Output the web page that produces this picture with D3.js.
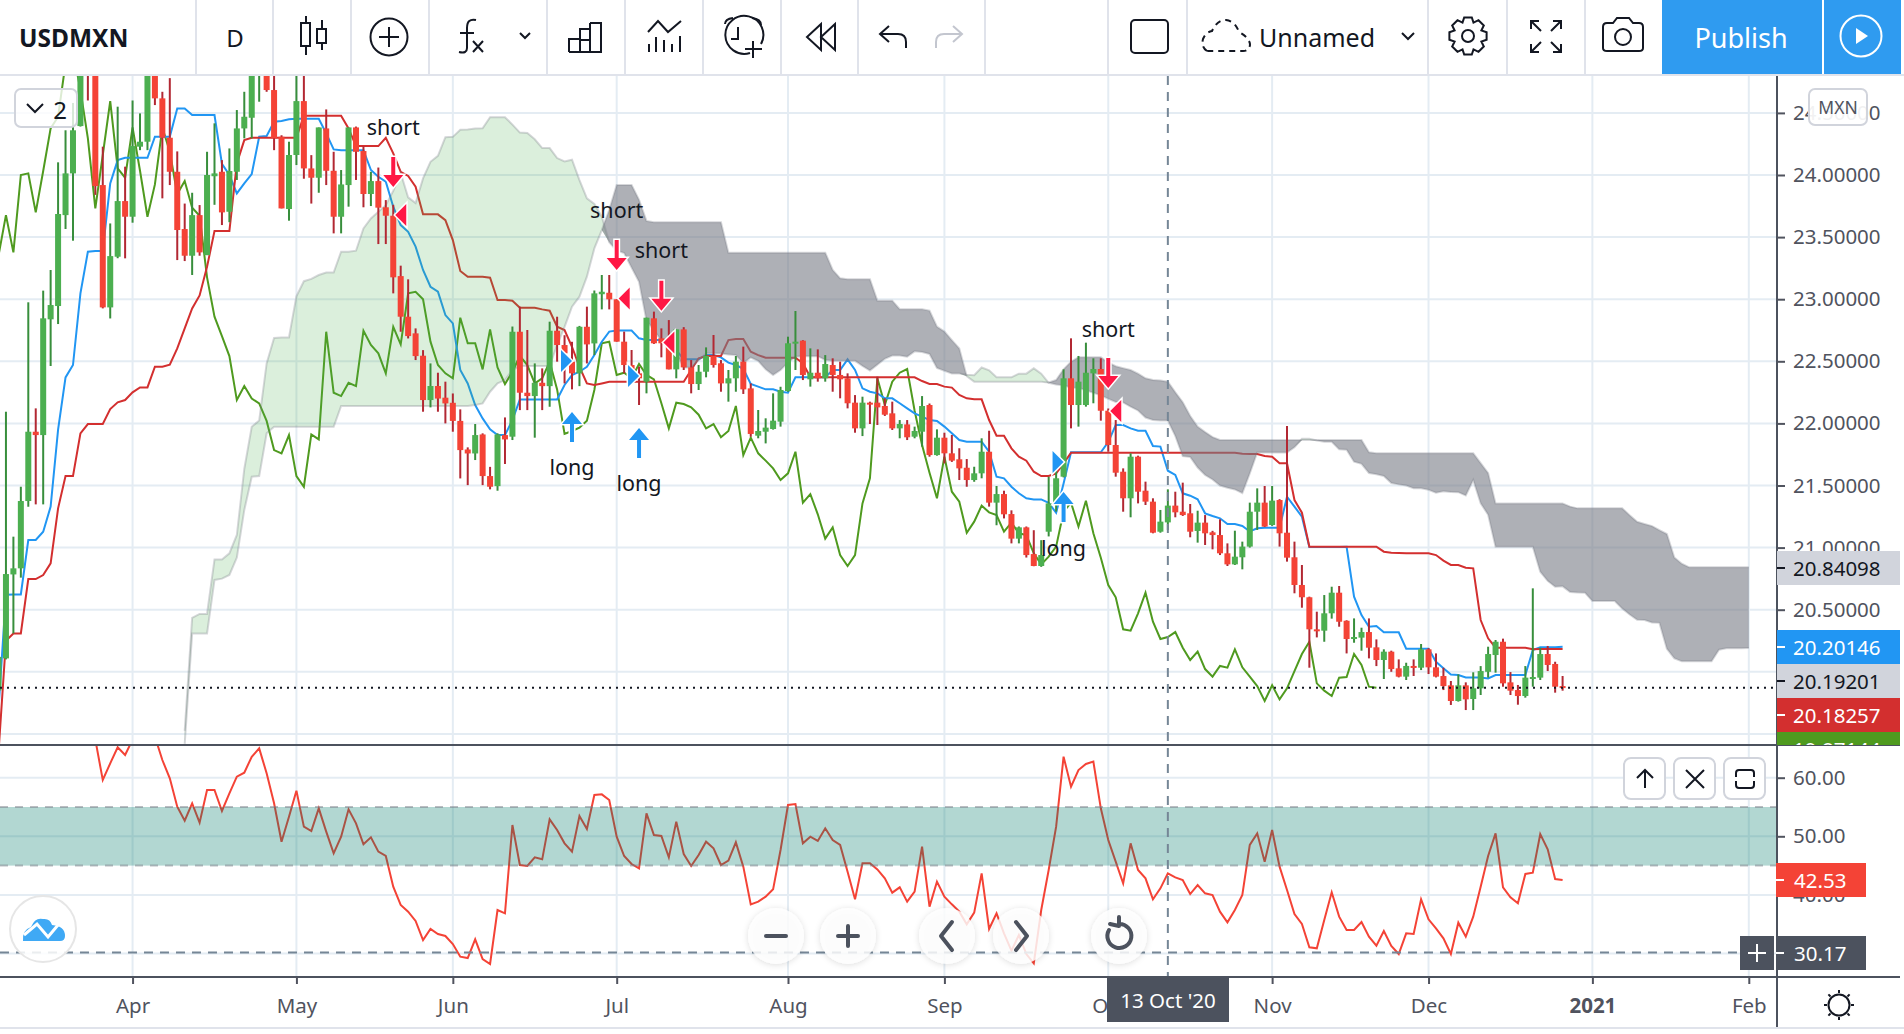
<!DOCTYPE html>
<html>
<head>
<meta charset="utf-8">
<title>USDMXN</title>
<script src="https://cdn.jsdelivr.net/npm/d3@7/dist/d3.min.js"></script>
<style>
  html, body { margin: 0; padding: 0; background: #fff; overflow: hidden; }
  svg { display: block; font-family: "Noto Sans", sans-serif; }
</style>
</head>
<body>
<svg id="chart" width="1904" height="1034"></svg>
<script>
// Daily USDMXN bars as [open, high, low, close]; the first bar is index 0.
const ohlc = [
[19.85,20.2,19.8,20.12],[20.108,22.094,20.1,20.787],[20.784,21.088,20.309,20.833],[20.833,21.49,20.758,21.375],[21.375,22.975,21.329,21.933],
[21.933,22.121,21.348,21.906],[21.906,23.069,21.348,22.846],[22.838,23.235,22.462,22.953],[22.945,24.102,22.8,23.686],[23.677,24.36,23.565,24.013],
[24.013,24.58,23.471,24.36],[24.394,25.1,24.39,25.0],[25.2,25.3,24.6,24.9],[25.0,25.1,23.84,23.911],[23.919,24.228,22.926,22.934],
[22.934,23.61,22.845,23.347],[23.342,24.55,23.33,23.79],[23.79,24.067,23.329,23.664],[23.664,24.6,23.616,24.233],[24.228,24.496,24.2,24.268],
[24.268,25.0,24.2,24.9],[25.0,25.1,24.563,24.617],[24.617,24.67,23.812,24.30],[24.30,24.78,23.919,24.026],[24.026,24.19,23.315,23.557],
[23.565,23.77,23.307,23.35],[23.35,23.857,23.195,23.677],[23.677,23.758,23.35,23.377],[23.355,24.187,23.355,24.0],[23.99,24.416,23.76,24.013],
[24.026,24.12,23.597,23.699],[23.704,24.214,23.62,24.032],[24.026,24.523,23.96,24.375],[24.375,24.67,24.295,24.469],[24.461,25.0,24.295,24.9],
[24.9,25.1,24.59,25.0],[25.0,25.1,24.67,24.684],[24.684,24.8,24.2,24.295],[24.308,24.32,23.731,23.731],[23.726,24.268,23.632,24.161],
[24.161,24.8,24.08,24.595],[24.595,24.8,23.97,24.053],[24.053,24.16,23.77,23.978],[23.978,24.383,23.857,24.383],[24.375,24.528,23.919,24.034],
[24.034,24.187,23.53,23.664],[23.664,24.04,23.53,23.924],[23.919,24.383,23.745,24.383],[24.383,24.39,23.96,24.187],[24.193,24.23,23.74,23.847],
[23.847,24.026,23.75,23.951],[23.951,24.06,23.444,23.737],[23.74,23.798,23.444,23.672],[23.672,23.76,23.047,23.176],[23.186,23.27,22.738,22.859],
[22.859,23.16,22.684,22.703],[22.725,22.765,22.51,22.542],[22.545,22.59,22.094,22.188],[22.188,22.483,22.129,22.301],[22.301,22.408,22.094,22.2],
[22.207,22.336,22.0,22.161],[22.166,22.241,21.933,22.02],[22.02,22.113,21.557,21.785],[21.79,21.807,21.503,21.758],[21.758,21.995,21.705,21.906],
[21.911,21.92,21.503,21.576],[21.576,21.65,21.469,21.49],[21.495,21.92,21.458,21.911],[21.906,22.048,21.673,21.871],[21.893,22.78,21.866,22.738],
[22.738,22.94,22.107,22.247],[22.247,22.752,22.107,22.22],[22.22,22.483,21.885,22.327],[22.327,22.443,22.107,22.3],[22.3,22.819,22.134,22.746],
[22.746,22.859,22.497,22.631],[22.631,22.71,22.322,22.564],[22.497,22.657,22.274,22.403],[22.403,22.785,22.3,22.778],[22.778,22.94,22.483,22.636],
[22.644,23.07,22.55,23.047],[23.04,23.195,22.918,23.06],[23.052,23.195,22.918,22.999],[22.999,23.0,22.658,22.658],[22.658,22.739,22.403,22.47],
[22.47,22.591,22.363,22.403],[22.403,22.457,22.148,22.363],[22.336,22.851,22.242,22.851],[22.846,22.9,22.64,22.645],[22.685,22.765,22.532,22.645],
[22.645,22.832,22.435,22.435],[22.435,22.757,22.363,22.757],[22.757,22.775,22.43,22.451],[22.451,22.51,22.242,22.317],[22.317,22.47,22.269,22.416],
[22.416,22.612,22.371,22.543],[22.543,22.712,22.449,22.47],[22.484,22.51,22.255,22.322],[22.322,22.43,22.175,22.363],[22.363,22.543,22.255,22.497],
[22.497,22.618,22.237,22.274],[22.282,22.322,21.893,21.915],[21.901,22.108,21.88,21.939],[21.933,22.041,21.839,21.966],[21.955,22.242,21.95,22.022],
[22.014,22.295,21.974,22.269],[22.261,22.698,22.255,22.645],[22.645,22.905,22.43,22.658],[22.666,22.67,22.349,22.39],[22.355,22.604,22.296,22.408],
[22.408,22.596,22.336,22.363],[22.363,22.55,22.336,22.478],[22.47,22.524,22.255,22.39],[22.39,22.497,22.202,22.355],[22.363,22.403,22.121,22.162],
[22.167,22.228,21.925,21.96],[21.96,22.215,21.898,22.167],[22.167,22.175,21.995,22.156],[22.167,22.376,21.987,22.129],[22.14,22.202,22.06,22.07],
[22.081,22.175,21.947,21.96],[21.96,22.027,21.88,21.995],[21.992,22.027,21.866,21.888],[21.893,21.974,21.88,21.939],[21.933,22.22,21.813,22.14],
[22.148,22.16,21.732,21.745],[21.745,21.952,21.74,21.885],[21.885,21.925,21.678,21.759],[21.759,21.907,21.69,21.70],[21.711,21.8,21.544,21.638],
[21.643,21.713,21.49,21.544],[21.544,21.651,21.53,21.598],[21.598,21.88,21.558,21.772],[21.772,21.941,21.33,21.362],[21.362,21.496,21.18,21.431],
[21.431,21.458,21.235,21.268],[21.27,21.3,21.034,21.072],[21.072,21.17,21.034,21.163],[21.163,21.17,20.92,20.94],[20.948,21.14,20.85,20.852],
[20.852,21.06,20.845,20.94],[21.128,21.57,21.09,21.356],[21.356,21.65,21.29,21.558],[21.571,22.435,21.565,22.363],[22.363,22.685,21.96,22.148],
[22.148,22.543,21.974,22.336],[22.148,22.65,22.135,22.408],[22.403,22.524,22.162,22.438],[22.438,22.524,22.022,22.102],[22.102,22.12,21.772,21.826],
[21.826,22.027,21.571,21.603],[21.611,21.638,21.289,21.397],[21.397,21.759,21.244,21.732],[21.732,21.74,21.356,21.45],[21.458,21.531,21.343,21.37],
[21.37,21.397,21.115,21.12],[21.128,21.303,21.12,21.209],[21.203,21.469,21.142,21.338],[21.338,21.45,21.244,21.284],[21.289,21.523,21.255,21.262],
[21.276,21.351,21.083,21.128],[21.134,21.297,21.04,21.201],[21.201,21.262,21.021,21.115],[21.123,21.135,20.986,21.101],[21.101,21.228,20.94,20.954],
[20.954,21.034,20.852,20.865],[20.865,21.136,20.86,20.927],[20.922,21.048,20.825,21.008],[21.008,21.362,21.0,21.289],[21.289,21.477,21.142,21.362],
[21.362,21.496,21.165,21.169],[21.182,21.496,21.175,21.378],[21.383,21.39,21.008,21.115],[21.12,21.979,20.887,20.919],[20.922,21.048,20.632,20.699],
[20.699,20.86,20.516,20.6],[20.6,20.605,20.033,20.342],[20.342,20.484,20.277,20.331],[20.331,20.618,20.242,20.471],[20.471,20.685,20.428,20.637],
[20.637,20.691,20.363,20.403],[20.411,20.415,20.148,20.264],[20.264,20.43,20.234,20.28],[20.275,20.355,20.17,20.32],[20.32,20.43,20.108,20.194],
[20.197,20.261,20.046,20.095],[20.095,20.181,19.942,20.162],[20.162,20.17,20.0,20.022],[20.028,20.1,19.955,19.961],[19.961,20.073,19.934,20.047],
[20.047,20.1,19.966,20.033],[20.033,20.224,20.014,20.181],[20.181,20.19,19.982,20.036],[20.036,20.148,19.955,19.961],[19.966,20.033,19.853,19.885],
[19.891,19.926,19.733,19.765],[19.765,19.979,19.76,19.891],[19.891,19.915,19.692,19.778],[19.781,19.996,19.692,19.867],[19.867,20.046,19.813,20.006],
[20.0,20.202,19.953,20.143],[20.135,20.256,19.993,20.242],[20.242,20.267,19.88,19.907],[19.915,19.998,19.813,19.848],[19.853,19.894,19.735,19.805],
[19.805,20.046,19.792,19.953],[19.947,20.672,19.88,19.958],[19.953,20.194,19.934,20.143],[20.143,20.208,20.006,20.055],[20.063,20.081,19.832,19.88],
[19.885,19.966,19.848,19.871]
];

// Ichimoku conversion line, one value per bar.
const tenkan = [
19.7,20.62,20.623,20.623,21.061,21.061,21.128,21.33,21.95,22.37,
22.47,23.047,23.382,23.388,23.388,23.932,24.12,24.139,24.139,24.139,
24.139,24.308,24.308,24.308,24.536,24.536,24.483,24.483,24.483,24.483,
24.09,24.0,23.852,23.932,24.008,24.308,24.314,24.429,24.434,24.448,
24.453,24.453,24.453,24.453,24.335,24.206,24.2,24.2,24.2,24.2,
24.04,23.986,23.946,23.745,23.597,23.543,23.423,23.235,23.1,23.06,
22.872,22.805,22.43,22.322,22.148,22.04,21.952,21.906,21.906,22.027,
22.193,22.193,22.193,22.193,22.193,22.193,22.309,22.389,22.416,22.456,
22.55,22.658,22.739,22.747,22.747,22.747,22.685,22.671,22.671,22.671,
22.671,22.59,22.516,22.516,22.516,22.55,22.55,22.532,22.489,22.47,
22.44,22.317,22.296,22.274,22.274,22.255,22.247,22.371,22.371,22.371,
22.371,22.371,22.43,22.43,22.516,22.43,22.282,22.255,22.242,22.202,
22.202,22.162,22.121,22.081,22.054,22.027,22.02,21.974,21.92,21.866,
21.853,21.853,21.853,21.772,21.571,21.558,21.49,21.437,21.397,21.388,
21.388,21.36,21.28,21.517,21.767,21.767,21.767,21.767,21.767,21.85,
21.987,21.987,21.96,21.941,21.941,21.818,21.813,21.619,21.585,21.437,
21.418,21.389,21.276,21.254,21.236,21.19,21.19,21.174,21.13,21.155,
21.16,21.16,21.16,21.41,21.33,21.249,21.005,21.005,21.005,21.005,
21.005,21.007,20.605,20.457,20.363,20.369,20.318,20.318,20.318,20.186,
20.186,20.186,20.186,20.081,20.028,19.979,19.974,19.955,19.955,19.955,
19.947,19.974,19.974,19.974,19.974,19.974,20.175,20.197,20.197,20.197,
20.201
];

// Ichimoku base line, one value per bar.
const kijun = [
19.35,20.25,20.309,20.309,20.747,20.747,20.779,20.873,21.316,21.576,
21.576,21.92,21.995,21.995,21.995,22.116,22.17,22.188,22.25,22.29,
22.29,22.457,22.457,22.473,22.604,22.765,22.926,23.03,23.261,23.549,
23.549,23.549,24.094,24.281,24.3,24.3,24.3,24.3,24.3,24.3,
24.3,24.477,24.477,24.477,24.477,24.477,24.477,24.375,24.233,24.233,
24.233,24.233,24.3,24.174,24.026,23.992,23.906,23.683,23.683,23.683,
23.637,23.476,23.227,23.181,23.181,23.181,23.173,22.993,22.993,22.988,
22.931,22.931,22.931,22.918,22.907,22.778,22.752,22.617,22.456,22.322,
22.309,22.322,22.336,22.336,22.336,22.336,22.336,22.336,22.336,22.336,
22.336,22.336,22.336,22.43,22.524,22.543,22.543,22.543,22.671,22.679,
22.679,22.577,22.55,22.529,22.529,22.529,22.529,22.529,22.484,22.371,
22.371,22.371,22.371,22.371,22.371,22.371,22.371,22.371,22.371,22.371,
22.371,22.371,22.371,22.371,22.341,22.317,22.317,22.296,22.288,22.229,
22.202,22.194,22.194,22.027,21.901,21.901,21.799,21.732,21.70,21.611,
21.576,21.576,21.598,21.678,21.764,21.764,21.764,21.764,21.764,21.764,
21.764,21.764,21.764,21.764,21.764,21.764,21.764,21.764,21.764,21.764,
21.764,21.764,21.764,21.764,21.764,21.764,21.764,21.756,21.754,21.754,
21.737,21.732,21.679,21.679,21.383,21.281,21.007,21.007,21.007,21.007,
21.007,21.007,21.007,21.007,21.007,21.007,20.967,20.959,20.956,20.954,
20.954,20.954,20.954,20.94,20.895,20.86,20.86,20.838,20.833,20.417,
20.27,20.194,20.194,20.194,20.194,20.194,20.181,20.183,20.183,20.183,
20.183
];

// Leading span B; its first value sits on bar 25 and it runs 25 bars past the last candle.
const senkouBStart = 25;
const senkouB = [
19.42,20.309,20.309,20.309,20.74,20.75,20.78,20.92,21.303,21.571,
21.576,21.92,21.973,21.973,21.973,21.973,21.973,21.973,21.973,21.973,
21.973,22.14,22.14,22.14,22.14,22.14,22.14,22.14,22.14,22.14,
22.14,22.14,22.14,22.14,22.14,22.14,22.14,22.14,22.14,22.148,
22.161,22.255,22.322,22.349,22.43,22.462,22.462,22.462,22.462,22.462,
22.631,22.778,22.94,23.02,23.181,23.409,23.557,23.72,23.92,23.92,
23.92,23.8,23.63,23.62,23.62,23.62,23.62,23.62,23.62,23.62,
23.62,23.62,23.62,23.375,23.375,23.375,23.375,23.375,23.375,23.375,
23.375,23.375,23.375,23.375,23.375,23.375,23.375,23.235,23.168,23.16,
23.16,23.16,23.16,22.988,22.988,22.988,22.92,22.92,22.92,22.92,
22.908,22.779,22.739,22.67,22.604,22.38,22.336,22.336,22.336,22.336,
22.336,22.336,22.336,22.336,22.336,22.336,22.33,22.349,22.435,22.497,
22.532,22.532,22.532,22.532,22.49,22.46,22.445,22.43,22.40,22.363,
22.35,22.345,22.336,22.25,22.17,22.06,21.974,21.93,21.89,21.866,
21.866,21.866,21.866,21.866,21.866,21.866,21.866,21.866,21.866,21.866,
21.866,21.866,21.866,21.866,21.866,21.866,21.866,21.866,21.866,21.767,
21.76,21.76,21.76,21.76,21.76,21.76,21.76,21.76,21.76,21.76,
21.76,21.76,21.76,21.76,21.68,21.6,21.356,21.356,21.356,21.356,
21.356,21.356,21.356,21.356,21.356,21.356,21.33,21.316,21.316,21.316,
21.316,21.316,21.316,21.316,21.26,21.208,21.19,21.173,21.14,21.109,
20.92,20.87,20.841,20.841,20.841,20.841,20.841,20.841,20.841,20.841,
20.841
];

// Ichimoku displacement, in bars.
const displacement = 25;

// RSI starting at bar 13; the first and several early values sit above the pane.
const rsiStart = 13;
const rsi = [
66.5,59.61,62.45,65.18,63.87,66.5,67.5,69,67,63.02,
59.89,55.06,52.67,55.63,52.33,57.9,57.9,54.32,57.33,60.18,
60.86,63.58,65.01,60.75,55.63,49.08,53.35,57.79,51.64,50.9,
54.77,50.79,47.09,49.94,54.6,52.21,48.63,49.82,47.38,46.64,
41.41,38.28,37.14,35.55,32.3,34.18,33.33,32.99,31.62,29.46,
29.23,32.42,29.06,28.21,37.42,36.85,51.93,45.1,44.93,46.41,
46.07,52.9,51.08,48.8,47.38,53.46,51.25,57.05,57.16,56.19,
49.94,46.64,45.27,44.53,53.92,50.22,50.05,46.41,52.5,46.98,
44.93,46.81,49.08,47.95,45.1,45.84,48.97,44.82,38.39,38.85,
39.7,40.95,47.66,55.34,55.51,48.8,49.94,49.2,51.36,49.37,
48.52,43.96,39.24,45.39,45.39,44.36,42.83,40.38,41.29,38.85,
40.55,48.23,38.0,42.26,39.7,38.39,37.14,34.98,36.97,43.68,
34.18,36.85,33.44,30.48,33.16,29.91,28.32,37.42,44.25,51.64,
63.58,58.47,61.31,62.34,62.74,54.77,49.37,45.67,41.97,48.8,
44.25,42.83,39.24,41.12,43.68,43.0,42.54,40.15,41.69,40.27,
39.98,37.14,35.32,37.42,39.98,48.52,50.5,45.67,51.08,44.82,
40.84,36.74,35.03,31.05,30.88,35.72,40.44,36.29,34.01,34.01,
35.38,32.87,31.34,33.84,31.28,29.91,33.44,33.33,39.24,35.83,
34.29,32.59,29.91,35.26,32.87,36.29,41.41,46.64,50.5,41.29,
39.58,38.56,43.57,43.79,50.39,47.78,42.71,42.53
];

// Axis ticks.
const priceTicks = [24.5,24,23.5,23,22.5,22,21.5,21,20.5,20,19.5];
const rsiTicks = [60,50,40];
const timeTickBars = [18,40,61,83,106,127,149,171,192,214,235];
const timeTickLabels = ["Apr","May","Jun","Jul","Aug","Sep","Oct","Nov","Dec","2021","Feb"];
const crosshairBar = 157;
const crosshairRsi = 30.17;
const rsiBand = [45,55];

// Strategy signals, anchored to a bar and a price.
const downArrows = [[53,23.903],[83,23.235],[89,22.907],[149,22.285]];
const upArrows = [[77,22.092],[86,21.963],[143,21.448]];
const leftFlags = [[53,23.678],[83,23.006],[89,22.651],[149,22.1]];
const rightFlags = [[77,22.502],[86,22.382],[143,21.689]];
const signalTexts = [
  ["short",53,24.387],["short",83,23.726],["short",89,23.404],["short",149,22.768],
  ["long",77,21.649],["long",86,21.528],["long",143,20.997]
];

// Right-hand value tags: text, colours, and the axis band each one occupies.
const priceTags = [
  ["20.84098","#d1d4dc","#131722",551],
  ["20.20146","#2196f3","#ffffff",630],
  ["20.19201","#d1d4dc","#131722",664],
  ["20.18257","#d32f2f","#ffffff",698],
  ["19.87144","#4f9a1f","#ffffff",732]
];

const W = 1904, H = 1034;
const plotRight = 1777, mainTop = 76, mainBottom = 745, rsiBottom = 977, axisBottom = 1027;
const GRID = "#e4ecf3", AXIS = "#50535e", DARK = "#4c525e", INK = "#131722";
const UP = "#4caf50", UPW = "#388e3c", DOWN = "#f44336", DOWNW = "#b22833";

const svg = d3.select("#chart");

const x = d3.scaleLinear().domain([0, 235]).range([-1.5, 1748.8]);
const y = d3.scaleLinear().domain([22, 20]).range([423.4, 671.8]);
const yRsi = d3.scaleLinear().domain([50, 60]).range([836.3, 777.7]);

const defs = svg.append("defs");
defs.append("clipPath").attr("id", "mainClip").append("rect")
  .attr("x", 0).attr("y", mainTop).attr("width", plotRight).attr("height", mainBottom - mainTop);
defs.append("clipPath").attr("id", "rsiClip").append("rect")
  .attr("x", 0).attr("y", mainBottom).attr("width", plotRight).attr("height", rsiBottom - mainBottom);
defs.append("filter").attr("id", "softShadow").attr("x", "-30%").attr("y", "-30%").attr("width", "160%").attr("height", "160%")
  .append("feDropShadow").attr("dx", 0).attr("dy", 1).attr("stdDeviation", 3).attr("flood-color", "#000").attr("flood-opacity", 0.16);

// Grid
const grid = svg.append("g").attr("stroke", GRID).attr("stroke-width", 2);
grid.selectAll("line.v").data(timeTickBars).join("line").attr("class", "v")
  .attr("x1", d => x(d)).attr("x2", d => x(d)).attr("y1", mainTop).attr("y2", rsiBottom);
grid.selectAll("line.h").data(priceTicks).join("line").attr("class", "h")
  .attr("x1", 0).attr("x2", plotRight).attr("y1", d => y(d)).attr("y2", d => y(d));
grid.selectAll("line.r").data(rsiTicks.concat([30])).join("line").attr("class", "r")
  .attr("x1", 0).attr("x2", plotRight).attr("y1", d => yRsi(d)).attr("y2", d => yRsi(d));

const main = svg.append("g").attr("clip-path", "url(#mainClip)");

const lineOf = d3.line().x(d => x(d[0])).y(d => y(d[1]));

// Lagging span: every close drawn 25 bars back.
const chikou = ohlc.slice(displacement).map((b, i) => [i, b[3]]);
main.append("path").datum(chikou).attr("d", lineOf).attr("fill", "none").attr("stroke", "#4f9a1f").attr("stroke-width", 2);
main.append("path").datum(tenkan.map((v, i) => [i, v])).attr("d", lineOf).attr("fill", "none").attr("stroke", "#2196f3").attr("stroke-width", 2);
main.append("path").datum(kijun.map((v, i) => [i, v])).attr("d", lineOf).attr("fill", "none").attr("stroke", "#d32f2f").attr("stroke-width", 2);

// Cloud: span A is the midpoint of conversion and base lines, pushed forward 25 bars.
const cloud = senkouB.map((b, k) => {
  const bar = senkouBStart + k;
  const src = bar - displacement;
  return { bar, a: (tenkan[src] + kijun[src]) / 2, b };
});
const bullArea = d3.area().x(d => x(d.bar)).y0(d => y(Math.min(d.a, d.b))).y1(d => y(d.a));
const bearArea = d3.area().x(d => x(d.bar)).y0(d => y(Math.min(d.a, d.b))).y1(d => y(d.b));
main.append("path").datum(cloud).attr("d", bullArea).attr("fill", "#4caf50").attr("fill-opacity", 0.2);
main.append("path").datum(cloud).attr("d", bearArea).attr("fill", "#787b86").attr("fill-opacity", 0.6);
main.append("path").datum(cloud.map(d => [d.bar, d.a])).attr("d", lineOf).attr("fill", "none").attr("stroke", "#787b86").attr("stroke-opacity", 0.3).attr("stroke-width", 2);
main.append("path").datum(cloud.map(d => [d.bar, d.b])).attr("d", lineOf).attr("fill", "none").attr("stroke", "#787b86").attr("stroke-opacity", 0.3).attr("stroke-width", 2);

// Candles
const candles = main.append("g").selectAll("g").data(ohlc).join("g");
candles.append("line")
  .attr("x1", (d, i) => x(i)).attr("x2", (d, i) => x(i))
  .attr("y1", d => y(d[1])).attr("y2", d => y(d[2]))
  .attr("stroke", d => d[3] >= d[0] ? UPW : DOWNW).attr("stroke-width", 2);
candles.append("rect")
  .attr("x", (d, i) => x(i) - 3).attr("width", 6)
  .attr("y", d => y(Math.max(d[0], d[3])))
  .attr("height", d => Math.max(2, Math.abs(y(d[0]) - y(d[3]))))
  .attr("fill", d => d[3] >= d[0] ? UP : DOWN);

// Last-price dotted line
main.append("line").attr("x1", 0).attr("x2", plotRight)
  .attr("y1", y(ohlc[ohlc.length - 1][3])).attr("y2", y(ohlc[ohlc.length - 1][3]))
  .attr("stroke", INK).attr("stroke-width", 2).attr("stroke-dasharray", "2 5");

// Signal arrows and flags
const signals = svg.append("g").attr("clip-path", "url(#mainClip)");
const SIG_RED = "#ff1744", SIG_BLUE = "#2196f3";
signals.selectAll("path.dn").data(downArrows).join("path").attr("class", "dn")
  .attr("transform", d => `translate(${x(d[0])},${y(d[1])})`)
  .attr("d", "M0,0 L-10,-12 L-2,-12 L-2,-30 L2,-30 L2,-12 L10,-12 Z")
  .attr("fill", SIG_RED).attr("stroke", "#fff").attr("stroke-width", 3).attr("paint-order", "stroke");
signals.selectAll("path.up").data(upArrows).join("path").attr("class", "up")
  .attr("transform", d => `translate(${x(d[0])},${y(d[1])})`)
  .attr("d", "M0,0 L10,12 L2,12 L2,30 L-2,30 L-2,12 L-10,12 Z")
  .attr("fill", SIG_BLUE).attr("stroke", "#fff").attr("stroke-width", 3).attr("paint-order", "stroke");
signals.selectAll("path.lf").data(leftFlags).join("path").attr("class", "lf")
  .attr("transform", d => `translate(${x(d[0]) + 2},${y(d[1])})`)
  .attr("d", "M0,0 L11,-11 L11,11 Z")
  .attr("fill", SIG_RED).attr("stroke", "#fff").attr("stroke-width", 3).attr("paint-order", "stroke");
signals.selectAll("path.rf").data(rightFlags).join("path").attr("class", "rf")
  .attr("transform", d => `translate(${x(d[0])},${y(d[1])})`)
  .attr("d", "M0,0 L-11,-11 L-11,11 Z")
  .attr("fill", SIG_BLUE).attr("stroke", "#fff").attr("stroke-width", 3).attr("paint-order", "stroke");
signals.selectAll("text").data(signalTexts).join("text")
  .attr("x", d => x(d[1])).attr("y", d => y(d[2])).attr("text-anchor", "middle").attr("dominant-baseline", "central")
  .attr("font-size", 21.5).attr("fill", INK).text(d => d[0]);

// RSI pane: line first, band over it so the line tints inside the band.
const rsiG = svg.append("g").attr("clip-path", "url(#rsiClip)");
const rsiLine = d3.line().x(d => x(d[0])).y(d => yRsi(d[1]));
rsiG.append("path").datum(rsi.map((v, i) => [rsiStart + i, v])).attr("d", rsiLine)
  .attr("fill", "none").attr("stroke", DOWN).attr("stroke-width", 2);
rsiG.append("rect").attr("x", 0).attr("width", plotRight)
  .attr("y", yRsi(rsiBand[1])).attr("height", yRsi(rsiBand[0]) - yRsi(rsiBand[1]))
  .attr("fill", "#00796b").attr("fill-opacity", 0.3);
rsiG.selectAll("line.band").data(rsiBand).join("line").attr("class", "band")
  .attr("x1", 0).attr("x2", plotRight).attr("y1", d => yRsi(d)).attr("y2", d => yRsi(d))
  .attr("stroke", "#787b86").attr("stroke-opacity", 0.5).attr("stroke-width", 2).attr("stroke-dasharray", "8 7");

// Crosshair
svg.append("line").attr("x1", x(crosshairBar)).attr("x2", x(crosshairBar)).attr("y1", mainTop).attr("y2", rsiBottom + 6)
  .attr("stroke", "#758696").attr("stroke-width", 2).attr("stroke-dasharray", "9 7");
svg.append("line").attr("x1", 0).attr("x2", plotRight).attr("y1", yRsi(crosshairRsi)).attr("y2", yRsi(crosshairRsi))
  .attr("stroke", "#758696").attr("stroke-width", 2).attr("stroke-dasharray", "9 7");

// Pane frame
const frame = svg.append("g").attr("stroke", DARK).attr("stroke-width", 2);
frame.append("line").attr("x1", 0).attr("x2", 1900).attr("y1", mainBottom).attr("y2", mainBottom);
frame.append("line").attr("x1", 0).attr("x2", 1900).attr("y1", rsiBottom).attr("y2", rsiBottom);
frame.append("line").attr("x1", plotRight).attr("x2", plotRight).attr("y1", mainTop).attr("y2", axisBottom);

// Axes
function styleAxis(g, size) {
  g.select(".domain").remove();
  g.selectAll(".tick line").attr("stroke", AXIS).attr("stroke-width", 2);
  g.selectAll(".tick text").attr("fill", AXIS).attr("font-size", size).attr("font-family", '"Noto Sans", sans-serif');
}
const priceClipId = "priceAxisClip";
defs.append("clipPath").attr("id", priceClipId).append("rect")
  .attr("x", plotRight).attr("y", mainTop).attr("width", 127).attr("height", mainBottom - mainTop);
svg.append("g").attr("clip-path", `url(#${priceClipId})`).append("g")
  .attr("transform", `translate(${plotRight},0)`)
  .call(d3.axisRight(y).tickValues(priceTicks).tickFormat(d => d.toFixed(5)).tickSize(8).tickPadding(8))
  .call(styleAxis, 20.5);
svg.append("g").attr("transform", `translate(${plotRight},0)`)
  .call(d3.axisRight(yRsi).tickValues(rsiTicks).tickFormat(d => d.toFixed(2)).tickSize(8).tickPadding(8))
  .call(styleAxis, 20.5);
const timeAxis = svg.append("g").attr("transform", `translate(0,${rsiBottom})`)
  .call(d3.axisBottom(x).tickValues(timeTickBars).tickFormat((d, i) => timeTickLabels[i]).tickSize(7).tickPadding(14))
  .call(styleAxis, 20.5);
timeAxis.selectAll(".tick text").attr("font-weight", (d, i) => timeTickLabels[i] === "2021" ? 700 : 400);

// Price tags on the right scale
const tags = svg.append("g").attr("clip-path", `url(#${priceClipId})`).selectAll("g").data(priceTags).join("g");
tags.append("rect").attr("x", plotRight).attr("width", 123).attr("y", d => d[3]).attr("height", 34).attr("fill", d => d[1]);
tags.append("line").attr("x1", plotRight).attr("x2", plotRight + 8).attr("y1", d => d[3] + 17).attr("y2", d => d[3] + 17)
  .attr("stroke", d => d[2]).attr("stroke-width", 2);
tags.append("text").attr("x", plotRight + 16).attr("y", d => d[3] + 17).attr("dominant-baseline", "central")
  .attr("font-size", 20.5).attr("fill", d => d[2]).text(d => d[0]);

// RSI value tags
function rsiTag(top, fill, label) {
  svg.append("rect").attr("x", plotRight - 1).attr("y", top).attr("width", 90).attr("height", 34).attr("fill", fill);
  svg.append("line").attr("x1", plotRight - 1).attr("x2", plotRight + 7).attr("y1", top + 17).attr("y2", top + 17).attr("stroke", "#fff").attr("stroke-width", 2);
  svg.append("text").attr("x", plotRight + 17).attr("y", top + 17).attr("dominant-baseline", "central")
    .attr("font-size", 20.5).attr("fill", "#fff").text(label);
}
rsiTag(863, DOWN, rsi[rsi.length - 1].toFixed(2));
rsiTag(936, DARK, crosshairRsi.toFixed(2));
svg.append("rect").attr("x", 1740).attr("y", 936).attr("width", 34).attr("height", 34).attr("fill", DARK);
svg.append("path").attr("d", "M1757,944V962M1748,953H1766").attr("stroke", "#fff").attr("stroke-width", 2).attr("fill", "none");

// Date tag
svg.append("rect").attr("x", 1107).attr("y", rsiBottom).attr("width", 122).attr("height", 45).attr("fill", DARK);
svg.append("text").attr("x", 1168).attr("y", rsiBottom + 23).attr("text-anchor", "middle").attr("dominant-baseline", "central")
  .attr("font-size", 20.5).attr("fill", "#fff").text("13 Oct '20");

// Footer rule
svg.append("line").attr("x1", 0).attr("x2", W).attr("y1", 1028).attr("y2", 1028).attr("stroke", "#e0e3eb").attr("stroke-width", 2);
svg.append("rect").attr("x", 0).attr("y", 1029).attr("width", W).attr("height", 5).attr("fill", "#fff");

// Scale settings sun
const sun = svg.append("g").attr("transform", "translate(1839,1005)").attr("fill", "none").attr("stroke", INK).attr("stroke-width", 2);
sun.append("circle").attr("r", 10.5);
d3.range(8).forEach(k => {
  const a = k * Math.PI / 4;
  sun.append("line").attr("x1", 12 * Math.cos(a)).attr("y1", 12 * Math.sin(a)).attr("x2", 15 * Math.cos(a)).attr("y2", 15 * Math.sin(a));
});

// Scale badge and collapsed-group badge
function badge(x0, y0, w, h, r, op) {
  return svg.append("rect").attr("x", x0).attr("y", y0).attr("width", w).attr("height", h).attr("rx", r)
    .attr("fill", "#fff").attr("fill-opacity", op).attr("stroke", "#d1d4dc").attr("stroke-width", 2);
}
badge(1809, 89, 58, 36, 6, 0.92);
svg.append("text").attr("x", 1838).attr("y", 107).attr("text-anchor", "middle").attr("dominant-baseline", "central")
  .attr("font-size", 17.5).attr("fill", AXIS).text("MXN");
badge(15, 89, 62, 38, 6, 0.8);
svg.append("path").attr("d", "M27,104 L35,112 L43,104").attr("fill", "none").attr("stroke", INK).attr("stroke-width", 2);
svg.append("text").attr("x", 60).attr("y", 109).attr("text-anchor", "middle").attr("dominant-baseline", "central")
  .attr("font-size", 24).attr("fill", INK).text("2");

// Pane control buttons
[1624, 1674, 1724].forEach(px => badge(px, 758, 41, 41, 7, 1));
const paneIcons = svg.append("g").attr("fill", "none").attr("stroke", INK).attr("stroke-width", 2);
paneIcons.append("path").attr("d", "M1645,788V770M1637,778L1645,770L1653,778");
paneIcons.append("path").attr("d", "M1686,770L1704,788M1704,770L1686,788");
paneIcons.append("path").attr("d", "M1736,777V773Q1736,770 1739,770H1751Q1754,770 1754,773V777M1736,781V785Q1736,788 1739,788H1751Q1754,788 1754,785V781");

// Floating chart navigation buttons
const navCentres = [776, 848, 947, 1021, 1119];
const nav = svg.append("g");
nav.selectAll("circle").data(navCentres).join("circle")
  .attr("cx", d => d).attr("cy", 936).attr("r", 28)
  .attr("fill", "#fff").attr("fill-opacity", 0.82).attr("filter", "url(#softShadow)");
const navIcons = svg.append("g").attr("fill", "none").attr("stroke", DARK).attr("stroke-width", 4).attr("stroke-linecap", "round").attr("stroke-linejoin", "round");
navIcons.append("path").attr("d", "M766,936H786");
navIcons.append("path").attr("d", "M838,936H858M848,926V946");
navIcons.append("path").attr("d", "M952,922L941,936L952,950");
navIcons.append("path").attr("d", "M1016,922L1027,936L1016,950");
navIcons.append("path").attr("d", "M1109,930A12,12 0 1 0 1119,924M1119,917V926L1110,924");

// Brand bubble
svg.append("circle").attr("cx", 43).attr("cy", 929).attr("r", 33).attr("fill", "#fff").attr("fill-opacity", 0.85)
  .attr("stroke", "#e6e6e6").attr("stroke-width", 2);
svg.append("path").attr("d", "M23,941 Q22,930 31,927 Q35,917 43,919 Q50,918 52,925 Q65,926 65,936 Q65,941 60,941 Z").attr("fill", "#3fa9f5");
svg.append("path").attr("d", "M24,935 L37,924 L48,937 L58,925").attr("fill", "none").attr("stroke", "#fff").attr("stroke-width", 3);

// Toolbar
svg.append("rect").attr("x", 0).attr("y", 0).attr("width", W).attr("height", 74).attr("fill", "#fff");
svg.append("line").attr("x1", 0).attr("x2", W).attr("y1", 75).attr("y2", 75).attr("stroke", "#e0e3eb").attr("stroke-width", 2);
[196, 273, 351, 429, 547, 625, 703, 781, 858, 985, 1108, 1187, 1428, 1507, 1585].forEach(px => {
  svg.append("line").attr("x1", px).attr("x2", px).attr("y1", 0).attr("y2", 74).attr("stroke", "#e0e3eb").attr("stroke-width", 2);
});
svg.append("text").attr("x", 19).attr("y", 37).attr("dominant-baseline", "central")
  .attr("font-size", 24.5).attr("font-weight", 700).attr("fill", INK).text("USDMXN");
svg.append("text").attr("x", 235).attr("y", 37).attr("text-anchor", "middle").attr("dominant-baseline", "central")
  .attr("font-size", 24).attr("fill", INK).text("D");

const tool = svg.append("g").attr("fill", "none").attr("stroke", INK).attr("stroke-width", 2);
// candle style
tool.append("path").attr("d", "M306,16V23M306,46V55M322,20V29M322,43V50");
tool.append("rect").attr("x", 301).attr("y", 23).attr("width", 9).attr("height", 23);
tool.append("rect").attr("x", 317).attr("y", 29).attr("width", 9).attr("height", 14);
// add symbol
tool.append("circle").attr("cx", 389).attr("cy", 37).attr("r", 18.5);
tool.append("path").attr("d", "M389,27V47M379,37H399");
// indicators
tool.append("path").attr("d", "M476,20Q467,18 467,28V48Q467,54 459,52M460,33H474");
tool.append("path").attr("d", "M473,41L483,52M483,41L473,52");
tool.append("path").attr("d", "M520,33L525,38L530,33");
// bars
tool.append("path").attr("d", "M569,52V39H580V29H590V52M580,52V39M590,40H580M590,23H601V52H569");
tool.append("path").attr("d", "M590,29V23");
// indicator templates
tool.append("path").attr("d", "M648,32L658,21L668,32L681,21");
tool.append("path").attr("d", "M649,52V44M656,52V37M664,52V40M672,52V44M680,52V36");
// alarm
tool.append("path").attr("d", "M750,53A19,19 0 1 1 761,44");
tool.append("path").attr("d", "M738,27V39H731M725,24Q725,19 733,18M752,18Q761,19 761,25");
tool.append("path").attr("d", "M753,41V58M745,49H762");
// replay
tool.append("path").attr("d", "M821,24L807,37L821,50ZM835,24L821,37L835,50Z");
// undo / redo
tool.append("path").attr("d", "M889,26L880,34L889,42M881,34H898Q906,34 906,42V48");
tool.append("path").attr("d", "M953,26L962,34L953,42M961,34H944Q936,34 936,42V48").attr("stroke", "#c3c6cf");
// layout square
tool.append("rect").attr("x", 1131).attr("y", 20).attr("width", 37).attr("height", 33).attr("rx", 4);
// dashed cloud
tool.append("path").attr("d", "M1207,51Q1201,47 1203,39Q1206,32 1212,31Q1217,20 1226,20Q1235,21 1239,32Q1250,38 1250,45Q1249,51 1243,51Z")
  .attr("stroke-dasharray", "6 5");
tool.append("path").attr("d", "M1402,33L1408,39L1414,33");
// gear
const gear = tool.append("g").attr("transform", "translate(1468,36)");
gear.append("circle").attr("r", 6);
gear.append("path").attr("d", d3.range(8).map(k => {
  const a0 = k * Math.PI / 4 - 0.2, a1 = k * Math.PI / 4 + 0.2, a2 = (k + 0.5) * Math.PI / 4;
  const p = (r, a) => `${(r * Math.cos(a)).toFixed(1)},${(r * Math.sin(a)).toFixed(1)}`;
  return `${k ? "L" : "M"}${p(19, a0)}L${p(19, a1)}L${p(14.5, a2)}`;
}).join("") + "Z");
// fullscreen
tool.append("path").attr("d", "M1531,29V21H1539M1531,21L1541,31M1561,29V21H1553M1561,21L1551,31M1531,44V52H1539M1531,52L1541,42M1561,44V52H1553M1561,52L1551,42");
// camera
tool.append("path").attr("d", "M1607,23H1613L1617,18H1629L1633,23H1639Q1643,23 1643,27V48Q1643,51 1639,51H1607Q1603,51 1603,48V27Q1603,23 1607,23Z");
tool.append("circle").attr("cx", 1623).attr("cy", 37).attr("r", 8);

svg.append("text").attr("x", 1259).attr("y", 37).attr("dominant-baseline", "central")
  .attr("font-size", 25).attr("fill", INK).text("Unnamed");

// Publish and play
svg.append("rect").attr("x", 1662).attr("y", 0).attr("width", 160).attr("height", 74).attr("fill", "#2f9bf0");
svg.append("rect").attr("x", 1824).attr("y", 0).attr("width", 77).attr("height", 74).attr("fill", "#2f9bf0");
svg.append("text").attr("x", 1741).attr("y", 37).attr("text-anchor", "middle").attr("dominant-baseline", "central")
  .attr("font-size", 27).attr("fill", "#fff").text("Publish");
svg.append("circle").attr("cx", 1861).attr("cy", 36).attr("r", 20.5).attr("fill", "none").attr("stroke", "#fff").attr("stroke-width", 2);
svg.append("path").attr("d", "M1856,28L1868,36L1856,44Z").attr("fill", "#fff");
</script>
</body>
</html>
